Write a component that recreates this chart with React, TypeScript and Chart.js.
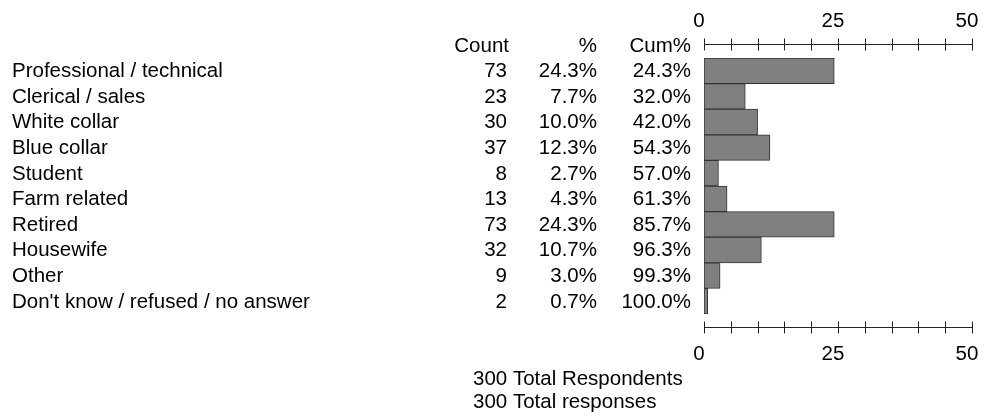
import React, { useEffect, useRef } from "react";
import { Chart, registerables } from "chart.js";

Chart.register(...registerables);

const categories = [
  "Professional / technical",
  "Clerical / sales",
  "White collar",
  "Blue collar",
  "Student",
  "Farm related",
  "Retired",
  "Housewife",
  "Other",
  "Don't know / refused / no answer",
];
const counts = [73, 23, 30, 37, 8, 13, 73, 32, 9, 2];
const percents = [24.3, 7.7, 10.0, 12.3, 2.7, 4.3, 24.3, 10.7, 3.0, 0.7];
const cumPercents = [24.3, 32.0, 42.0, 54.3, 57.0, 61.3, 85.7, 96.3, 99.3, 100.0];
const axisLabels = [0, 25, 50];
const minorTickStep = 5;
const axisMax = 50;
const footerLines = ["300 Total Respondents", "300 Total responses"];

const FONT = '20.5px "Liberation Sans", Arial, sans-serif';

const tablePlugin = {
  id: "tablePlugin",
  afterDraw(chart: any) {
    const ctx = chart.ctx as CanvasRenderingContext2D;
    const xs = chart.scales.x;
    const ys = chart.scales.y;
    ctx.save();
    ctx.font = FONT;
    ctx.fillStyle = "#000";
    ctx.textBaseline = "middle";

    const topAxisY = 44.5;
    const bottomAxisY = 327.5;

    // header
    ctx.textAlign = "right";
    ctx.fillText("Count", 509, 46);
    ctx.fillText("%", 597, 46);
    ctx.fillText("Cum%", 691, 46);

    categories.forEach((c, i) => {
      const y = ys.getPixelForValue(i) + 0.8;
      ctx.textAlign = "left";
      ctx.fillText(c, 12, y);
      ctx.textAlign = "right";
      ctx.fillText(String(counts[i]), 507, y);
      ctx.fillText(percents[i].toFixed(1) + "%", 597, y);
      ctx.fillText(cumPercents[i].toFixed(1) + "%", 691, y);
    });

    // axes
    ctx.strokeStyle = "#222";
    ctx.lineWidth = 1;
    [topAxisY, bottomAxisY].forEach((ay) => {
      const x0 = Math.round(xs.getPixelForValue(0)) + 0.5;
      const x1 = Math.round(xs.getPixelForValue(axisMax)) + 0.5;
      ctx.beginPath();
      ctx.moveTo(x0, ay);
      ctx.lineTo(x1, ay);
      for (let v = 0; v <= axisMax; v += minorTickStep) {
        const tx = Math.round(xs.getPixelForValue(v)) + 0.5;
        ctx.moveTo(tx, ay - 6);
        ctx.lineTo(tx, ay + 6);
      }
      ctx.stroke();
    });
    ctx.textAlign = "center";
    axisLabels.forEach((v) => {
      const tx = xs.getPixelForValue(v) - 5;
      ctx.fillText(String(v), tx, 21);
      ctx.fillText(String(v), tx, 354);
    });

    // footer
    ctx.textAlign = "left";
    ctx.fillText(footerLines[0], 473, 379.5);
    ctx.fillText(footerLines[1], 473, 402.5);
    ctx.restore();
  },
};

export default function App() {
  const ref = useRef<HTMLCanvasElement | null>(null);
  useEffect(() => {
    if (!ref.current) return;
    const chart = new Chart(ref.current, {
      type: "bar",
      data: {
        labels: categories,
        datasets: [
          {
            data: percents,
            backgroundColor: "#808080",
            borderColor: "#333333",
            borderWidth: 1,
            borderSkipped: false,
            barPercentage: 1,
            categoryPercentage: 1,
          },
        ],
      },
      options: {
        indexAxis: "y",
        animation: false,
        responsive: false,
        maintainAspectRatio: false,
        layout: { padding: { left: 704, right: 22, top: 58, bottom: 106 } },
        plugins: { legend: { display: false }, tooltip: { enabled: false } },
        scales: {
          x: { display: false, min: 0, max: axisMax },
          y: { display: false },
        },
      },
      plugins: [tablePlugin],
    });
    return () => chart.destroy();
  }, []);
  return (
    <div style={{ position: "fixed", left: 0, top: 0, width: 994, height: 420, background: "#fff" }}>
      <canvas ref={ref} width={994} height={420} style={{ width: 994, height: 420 }} />
    </div>
  );
}
